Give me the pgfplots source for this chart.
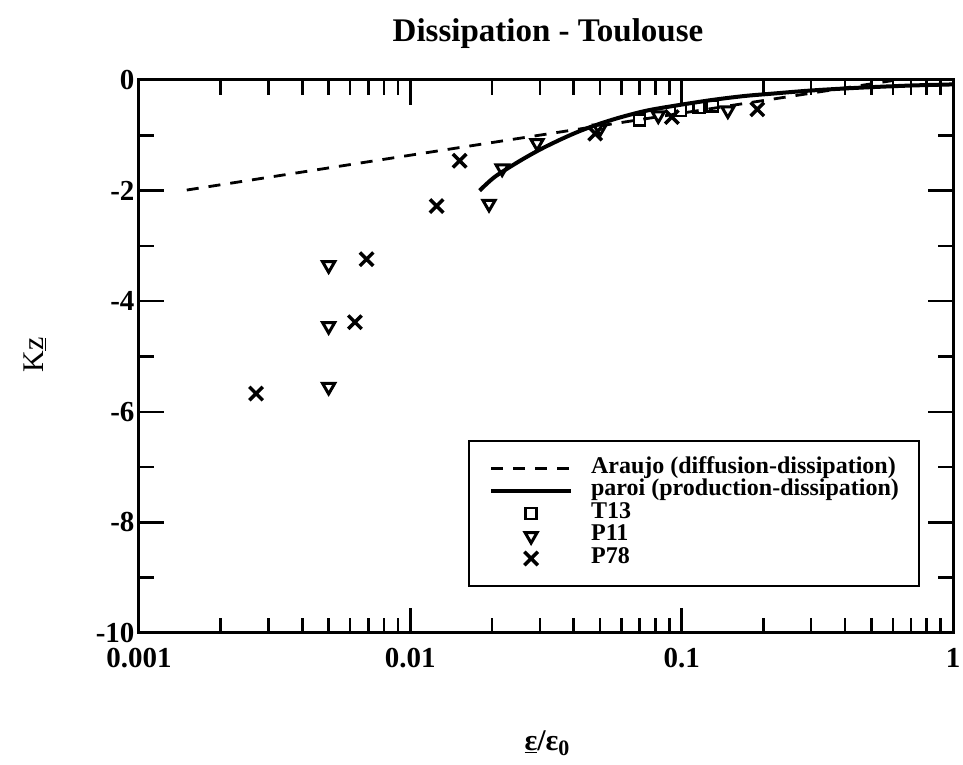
\documentclass[border=0pt]{standalone}
\usepackage{fontspec}
\setmainfont{Liberation Serif}
\usepackage{pgfplots}
\pgfplotsset{compat=1.18}
\pgfplotsset{
  lineleg/.style={legend image code/.code={\draw[##1] (0pt,0pt) -- (80pt,0pt);}},
  markleg/.style={legend image code/.code={\draw[##1] plot coordinates {(40pt,0pt)};}},
}
\begin{document}
\begin{tikzpicture}[x=1pt,y=1pt]
\path[use as bounding box] (0,0) rectangle (963,765);
\begin{axis}[
  at={(139pt,132pt)}, anchor=south west,
  scale only axis, width=814pt, height=553pt,
  xmode=log, xmin=0.001, xmax=1, ymin=-10, ymax=0,
  xtick={0.001,0.01,0.1,1}, xticklabels={0.001,0.01,0.1,1},
  ytick={-10,-8,-6,-4,-2,0}, minor ytick={-9,-7,-5,-3,-1},
  tick align=inside, tick pos=both,
  major tick length=25pt, minor tick length=15pt,
  every tick/.style={line width=2.5pt, black},
  axis line style={line width=3pt},
  /pgf/number format/assume math mode=true,
  tick label style={font=\bfseries\fontsize{29pt}{31pt}\selectfont},
  xticklabel style={yshift=-12pt},
  yticklabel style={xshift=-1pt},
  clip=false,
  legend cell align=left,
  legend style={at={(0.404,0.349)}, anchor=north west, draw=black, line width=2.5pt,
    font=\bfseries\fontsize{24pt}{24pt}\selectfont,
    inner xsep=20pt, inner ysep=16pt,
    nodes={inner sep=0pt, text height=16pt, text depth=6.5pt},
    /tikz/every odd column/.append style={column sep=18pt}},
]
\addplot[black, line width=2.8pt, dash pattern=on 12pt off 10pt, lineleg]
  coordinates {(0.0015,-1.99) (0.01,-1.36) (0.1,-0.60) (0.6,-0.01)};
\addlegendentry{Araujo (diffusion-dissipation)}
\addplot[black, line width=4pt, smooth, lineleg]
  coordinates {(0.018,-2.0) (0.0205,-1.75) (0.025,-1.48) (0.03,-1.26) (0.036,-1.07) (0.0423,-0.92) (0.05,-0.79) (0.06,-0.67) (0.075,-0.55) (0.0986,-0.45) (0.13,-0.36) (0.17,-0.29) (0.212,-0.25) (0.3,-0.19) (0.45,-0.14) (0.7,-0.10) (1,-0.08)};
\addlegendentry{paroi (production-dissipation)}
\addplot[only marks, mark=square, mark size=5.5pt, line width=2.6pt, black, markleg]
  coordinates {(0.07,-0.72) (0.099,-0.55) (0.116,-0.5) (0.13,-0.47)};
\addlegendentry{T13}
\addplot[only marks, mark=triangle, mark size=7pt, line width=3pt, black,
  mark options={rotate=180}, markleg]
  coordinates {(0.005,-3.35) (0.005,-4.45) (0.005,-5.55) (0.0195,-2.24) (0.0218,-1.6) (0.0293,-1.14) (0.05,-0.88) (0.082,-0.64) (0.148,-0.55)};
\addlegendentry{P11}
\addplot[only marks, mark=x, mark size=9.5pt, line width=3.5pt, black, markleg]
  coordinates {(0.0027,-5.67) (0.00625,-4.38) (0.0069,-3.24) (0.0125,-2.28) (0.0152,-1.46) (0.048,-0.97) (0.092,-0.67) (0.19,-0.53)};
\addlegendentry{P78}
\end{axis}
\node[font=\bfseries\fontsize{33pt}{35pt}\selectfont] at (548,731) {Dissipation - Toulouse};
\node[rotate=90, font=\fontsize{30pt}{32pt}\selectfont] at (35,410) {K\underline{z}};
\node[font=\bfseries\fontsize{30pt}{32pt}\selectfont] at (547,22) {\underline{ε}/ε\raisebox{-0.35ex}{\fontsize{22pt}{24pt}\selectfont 0}};
\end{tikzpicture}
\end{document}
